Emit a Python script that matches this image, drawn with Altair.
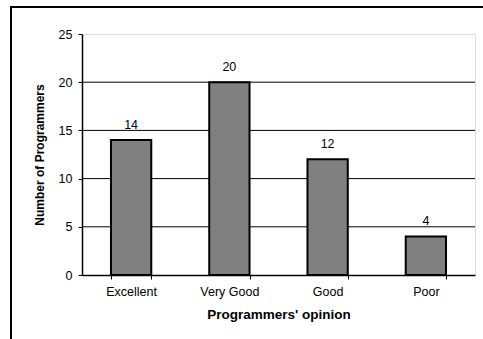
import altair as alt
import pandas as pd

categories = ["Excellent", "Very Good", "Good", "Poor"]
counts = [14, 20, 12, 4]
grid_values = [5, 10, 15, 20]

df = pd.DataFrame({"opinion": categories, "count": counts})
grid_df = pd.DataFrame({"g": grid_values})

FONT = "Liberation Sans"

x_enc = alt.X(
    "opinion:N",
    sort=categories,
    scale=alt.Scale(paddingInner=0.59, paddingOuter=0.295),
    axis=alt.Axis(
        title="Programmers' opinion",
        labelAngle=0,
        tickBand="extent",
        tickSize=4,
        tickColor="black",
        domainColor="black",
        domainWidth=1.5,
        labelPadding=6,
        titlePadding=10,
        labelFontSize=12.5,
        titleFontSize=13.5,
        titleFontWeight="bold",
        labelColor="black",
        titleColor="black",
    ),
)

y_scale = alt.Scale(domain=[0, 25], nice=False)

bars = alt.Chart(df).mark_bar(
    color="#808080", stroke="black", strokeWidth=2
).encode(
    x=x_enc,
    y=alt.Y(
        "count:Q",
        scale=y_scale,
        axis=alt.Axis(
            title="Number of Programmers",
            values=[0, 5, 10, 15, 20, 25],
            grid=False,
            tickSize=4,
            tickColor="black",
            domainColor="black",
            domainWidth=1.5,
            labelPadding=6,
            titlePadding=12,
            labelFontSize=12.5,
            titleFontSize=12,
            titleFontWeight="bold",
            labelColor="black",
            titleColor="black",
        ),
    ),
)

grid = alt.Chart(grid_df).mark_rule(color="black", strokeWidth=1).encode(
    y=alt.Y("g:Q", scale=y_scale),
    x=alt.value(0),
    x2=alt.value(393),
)

labels = alt.Chart(df).mark_text(
    dy=-15, fontSize=12.5, color="black", font=FONT
).encode(
    x=alt.X("opinion:N", sort=categories),
    y=alt.Y("count:Q", scale=y_scale),
    text="count:Q",
)

frame = alt.Chart(df).mark_rect(
    fill=None, stroke="black", strokeWidth=1.5
).encode(
    x=alt.value(-71),
    y=alt.value(-27),
    x2=alt.value(520),
    y2=alt.value(420),
)

chart = alt.layer(frame, grid, bars, labels).properties(
    width=393,
    height=241,
    autosize=alt.AutoSizeParams(type="none"),
    padding={"left": 82, "top": 34, "right": 8, "bottom": 64},
    background="white",
).configure_view(
    stroke="#808080", strokeWidth=2
).configure(
    font=FONT
).configure_axis(
    labelFont=FONT, titleFont=FONT
)

chart.save("out.html", embed_options={"renderer": "svg", "actions": False})
